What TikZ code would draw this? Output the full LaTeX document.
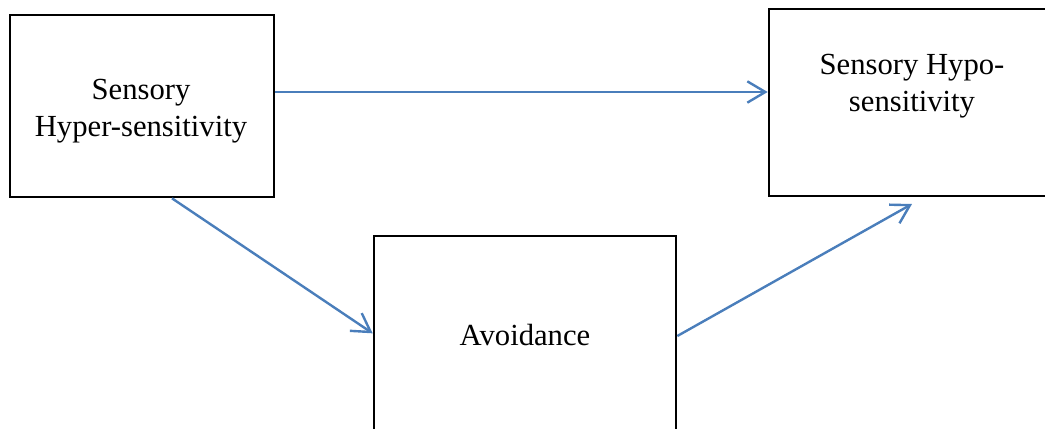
\documentclass[tikz,border=0pt]{standalone}
\usepackage{fontspec}
\setmainfont{Liberation Serif}
\usetikzlibrary{arrows.meta}
\definecolor{linkblue}{HTML}{4A7EBB}
\tikzset{
    box/.style={draw=black, line width=2pt, inner sep=0pt},
    boxtext/.style={align=center, inner sep=0pt, font=\fontsize{23}{27.75}\selectfont},
    link/.style={draw=linkblue, line width=1.8pt, -{Straight Barb[length=13.5pt,width=16pt]}}
}
\begin{document}
\begin{tikzpicture}[x=0.75pt, y=-0.75pt]
        \useasboundingbox (0,0) rectangle (1045,428);
        \clip (0,0) rectangle (1045,428);

        % Draw the three boxes
        \node[box, minimum width=198pt, minimum height=136.5pt] (hyper) at (142,106) {};
        \node[box, minimum width=214.5pt, minimum height=140.25pt] (hypo) at (912,102.5) {};
        \node[box, minimum width=226.5pt, minimum height=150pt] (avoid) at (525,336) {};

        % Labels inside the boxes
        \node[boxtext] (hypertext) at (141,111.5) {Sensory\\Hyper-sensitivity};
        \node[boxtext] (hypotext) at (912,86.5) {Sensory Hypo-\\sensitivity};
        \node[boxtext, anchor=base] (avoidtext) at (525,345) {Avoidance};

        % Draw the arrows between the boxes
        \coordinate (hyperout) at ([yshift=10.5pt]hyper.east);
        \draw[link] (hyperout) -- (hyperout -| hypo.west);
        \draw[link] ([xshift=22.5pt]hyper.south) -- ([yshift=2pt]avoid.west);
        \draw[link] (avoid.east) -- ([yshift=-5pt]hypo.south);
    \end{tikzpicture}
\end{document}
